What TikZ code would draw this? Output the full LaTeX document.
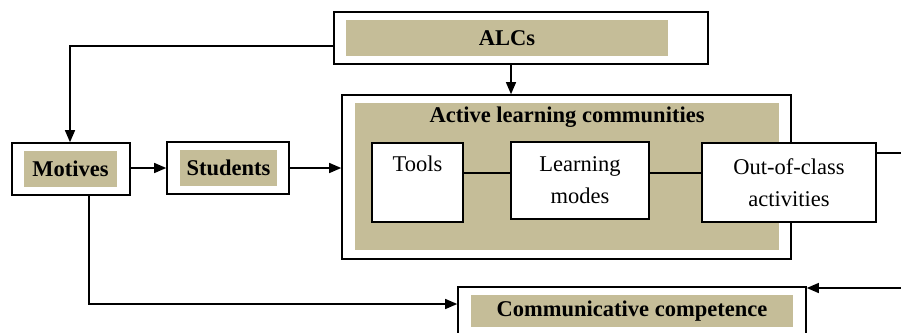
\documentclass[tikz,border=0pt]{standalone}
\usepackage{fontspec}
\setmainfont{Liberation Serif}
\usetikzlibrary{arrows.meta,calc}
\definecolor{tanfill}{RGB}{197,189,152}
\begin{document}
\begin{tikzpicture}[x=1pt,y=-1pt,
  font=\fontsize{22.5}{32}\selectfont,
  obox/.style={draw=black,line width=1.6pt,fill=white,inner sep=0pt},
  fbox/.style={fill=tanfill,inner sep=0pt,font=\fontsize{22.5}{32}\selectfont\bfseries},
  wbox/.style={draw=black,line width=1.4pt,fill=white,inner sep=0pt,align=center},
  conn/.style={line width=1.3pt},
  arr/.style={line width=1.3pt,-{Triangle[length=12pt,width=10pt]}}
]
\useasboundingbox (0,0) rectangle (901,332);
\clip (0,0) rectangle (901,332);

% ALCs
\node[obox,minimum width=374pt,minimum height=52pt] (alcsO) at (521,38) {};
\node[fbox,minimum width=322pt,minimum height=36pt] (alcsI) at (507,38) {ALCs};

% Active learning communities
\node[obox,minimum width=449pt,minimum height=164pt] (alcO) at (566.5,177) {};
\node[fbox,minimum width=424pt,minimum height=147pt] (alcI) at (567,176.5) {};
\node[fbox,fill=none,anchor=center] (alcT) at (567,117) {Active learning communities};

\node[wbox,minimum width=91pt,minimum height=79pt] (toolsB) at (417.5,182.5) {};
\node[anchor=center] (toolsT) at (417.5,164) {Tools};
\node[wbox,minimum width=138pt,minimum height=77pt] (learnB) at (580,180.5) {Learning\\modes};
\node[wbox,minimum width=174pt,minimum height=79pt] (outB) at (789,182.5) {Out-of-class\\activities};

% Motives / Students
\node[obox,minimum width=118pt,minimum height=52pt] (motO) at (71,169) {};
\node[fbox,minimum width=93pt,minimum height=36pt] (motI) at (70.5,169) {Motives};
\node[obox,minimum width=122pt,minimum height=52pt] (stuO) at (228,168) {};
\node[fbox,minimum width=97pt,minimum height=36pt] (stuI) at (228.5,168) {Students};

% Communicative competence
\node[obox,minimum width=348pt,minimum height=56pt] (comO) at (632,315) {};
\node[fbox,minimum width=322pt,minimum height=32pt] (comI) at (632,311) {Communicative competence};

% free ends at the right edge
\coordinate (rout) at (901,153);
\coordinate (rin) at (901,288);

% connectors
\draw[arr] ([yshift=-8pt]alcsO.west) -| ([xshift=-1pt]motO.north);
\draw[arr] ([xshift=-10pt]alcsO.south) -- ([xshift=-10pt]alcsO.south |- alcO.north);
\draw[arr] (motO.east |- stuO.east) -- (stuO.west);
\draw[arr] (stuO.east) -- (stuO.east -| alcO.west);
\draw[arr] ([xshift=18pt]motO.south) |- ([yshift=11pt]comO.west);
\draw[conn] ([yshift=9.5pt]toolsB.east) -- ([yshift=9.5pt]toolsB.east -| learnB.west);
\draw[conn] ([yshift=7.5pt]learnB.east) -- ([yshift=7.5pt]learnB.east -| outB.west);
\draw[conn] (outB.east |- rout) -- (rout);
\draw[arr] (rin) -- (rin -| comO.east);
\end{tikzpicture}
\end{document}
